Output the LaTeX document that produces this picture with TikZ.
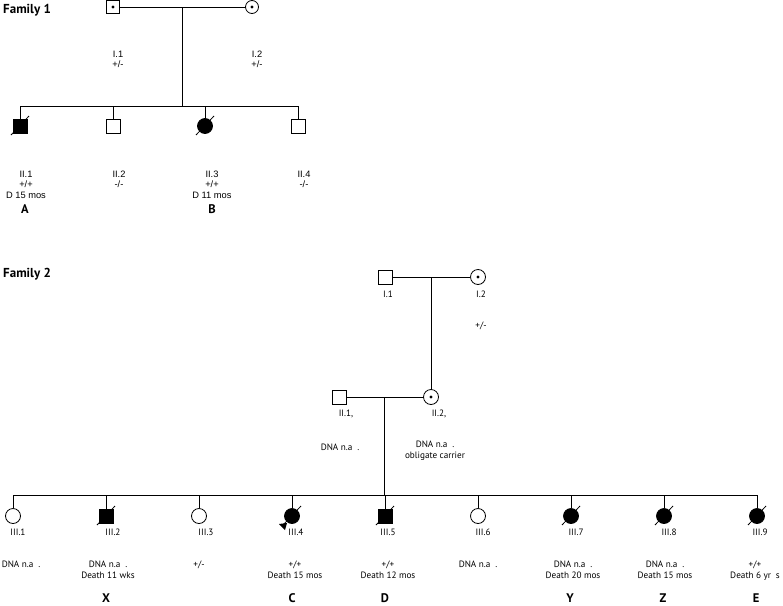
\documentclass[tikz,border=0pt]{standalone}
\usepackage{fontspec}
\setmainfont{Liberation Sans}
\newfontfamily\famfont{PT Sans}
\usetikzlibrary{calc}
\tikzset{
  ind/.style={draw, line width=0.8pt, inner sep=0pt},
  male/.style={ind, rectangle, minimum size=14pt},
  female/.style={ind, circle, minimum size=15pt},
  aff/.style={fill=black},
  car/.style={path picture={\fill (path picture bounding box.center) circle (1.6pt);}},
  ln/.style={line width=0.8pt},
  lbla/.style={font=\fontsize{9.3}{10.2}\selectfont, align=center, inner sep=0pt, anchor=north},
  lblb/.style={font=\famfont\fontsize{9.2}{10.5}\selectfont, align=center, inner sep=0pt, anchor=north},
  tag/.style={font=\famfont\bfseries\fontsize{12.5}{12.5}\selectfont, inner sep=0pt},
  head/.style={font=\famfont\bfseries\fontsize{13}{13}\selectfont, anchor=west, inner sep=0pt}}

\begin{document}
\begin{tikzpicture}[x=1pt, y=-1pt]
\useasboundingbox (0,0) rectangle (783,605);
% family 1
\node[head] (fam1) at (3,10) {Family 1};
\node[male, car, minimum size=13pt] (a11) at (113,7) {};
\node[female, car, minimum size=13pt] (a12) at (252,7) {};
\draw[ln] (a11) -- (a12);
\coordinate (a1m) at (182,7);
\coordinate (a1s) at (182,106);
\draw[ln] (a1m) -- (a1s);
\node[male, aff] (a21) at (20,126) {};
\node[male] (a22) at (113,126) {};
\node[female, aff] (a23) at (205,126) {};
\node[male] (a24) at (298,126) {};
\draw[ln] (a21.north |- a1s) -- (a24.north |- a1s);
\draw[ln] (a21.north |- a1s) -- (a21.north);
\draw[ln] (a22.north |- a1s) -- (a22.north);
\draw[ln] (a23.north |- a1s) -- (a23.north);
\draw[ln] (a24.north |- a1s) -- (a24.north);
\draw[ln] (a21.center) ++(-9,9) -- ++(18,-19);
\draw[ln] (a23.center) ++(-9,9) -- ++(18,-19);
\node[lbla] (ta11) at (118,51) {I.1\\+/-};
\node[lbla] (ta12) at (257,51) {I.2\\+/-};
\node[lbla] (ta21) at (26,171) {II.1\\+/+\\D 15 mos};
\node[lbla] (ta22) at (119,171) {II.2\\-/-};
\node[lbla] (ta23) at (212,171) {II.3\\+/+\\D 11 mos};
\node[lbla] (ta24) at (304,171) {II.4\\-/-};
\node[tag] (pa) at (25,209) {A};
\node[tag] (pb) at (212,209) {B};
% family 2
\node[head] (fam2) at (3,274) {Family 2};
\node[male] (b11) at (385,277) {};
\node[female, car] (b12) at (478,277) {};
\draw[ln] (b11) -- (b12);
\node[male] (b21) at (339,397) {};
\node[female, car] (b22) at (431,397) {};
\coordinate (b1m) at (431,277);
\draw[ln] (b1m) -- (b22.north);
\draw[ln] (b21) -- (b22);
\coordinate (b2m) at (384,397);
\coordinate (b2s) at (384,495);
\draw[ln] (b2m) -- (b2s);
\node[female] (b31) at (13,516) {};
\node[male, aff] (b32) at (106,516) {};
\node[female] (b33) at (199,516) {};
\node[female, aff] (b34) at (292,516) {};
\node[male, aff] (b35) at (385,516) {};
\node[female] (b36) at (478,516) {};
\node[female, aff] (b37) at (571,516) {};
\node[female, aff] (b38) at (664,516) {};
\node[female, aff] (b39) at (757,516) {};
\draw[ln] (b31.north |- b2s) -- (b39.north |- b2s);
\foreach \k in {1,...,9} {
  \draw[ln] (b3\k.north |- b2s) -- (b3\k.north);
}
\foreach \k in {2,4,5,7,8,9} {
  \draw[ln] (b3\k.center) ++(-9,9) -- ++(18,-19);
}
\fill (b34.center) ++(-13,8) -- ++(8,-1) -- ++(-2,7) -- cycle;
\node[lblb] (tb11) at (388,291) {I.1};
\node[lblb] (tb12) at (481,291) {I.2};
\node[lblb] (tb12g) at (481,322) {+/-};
\node[lblb] (tb21) at (346,410) {II.1,};
\node[lblb] (tb22) at (439,410) {II.2,};
\node[lblb] (tb21g) at (340,444) {DNA n.a\ \ .};
\node[lblb] (tb22g) at (435,441) {DNA n.a\ \ .\\obligate carrier};
\node[lblb] (tb31) at (18,529) {III.1};
\node[lblb] (tb32) at (113,529) {III.2};
\node[lblb] (tb33) at (206,529) {III.3};
\node[lblb] (tb34) at (296,529) {III.4};
\node[lblb] (tb35) at (388,529) {III.5};
\node[lblb] (tb36) at (483,529) {III.6};
\node[lblb] (tb37) at (576,529) {III.7};
\node[lblb] (tb38) at (669,529) {III.8};
\node[lblb] (tb39) at (760,529) {III.9};
\node[lblb] (tg31) at (21,561) {DNA n.a\ \ .};
\node[lblb] (tg32) at (108,561) {DNA n.a\ \ .\\Death 11 wks};
\node[lblb] (tg33) at (199,561) {+/-};
\node[lblb] (tg34) at (295,561) {+/+\\Death 15 mos};
\node[lblb] (tg35) at (388,561) {+/+\\Death 12 mos};
\node[lblb] (tg36) at (478,561) {DNA n.a\ \ .};
\node[lblb] (tg37) at (573,561) {DNA n.a\ \ .\\Death 20 mos};
\node[lblb] (tg38) at (665,561) {DNA n.a\ \ .\\Death 15 mos};
\node[lblb] (tg39) at (755,561) {+/+\\Death 6 yr\ \ s};
\node[tag] (px) at (106,598) {X};
\node[tag] (pc) at (292,598) {C};
\node[tag] (pd) at (385,598) {D};
\node[tag] (py) at (570,598) {Y};
\node[tag] (pz) at (663,598) {Z};
\node[tag] (pe) at (756,598) {E};
\end{tikzpicture}
\end{document}
